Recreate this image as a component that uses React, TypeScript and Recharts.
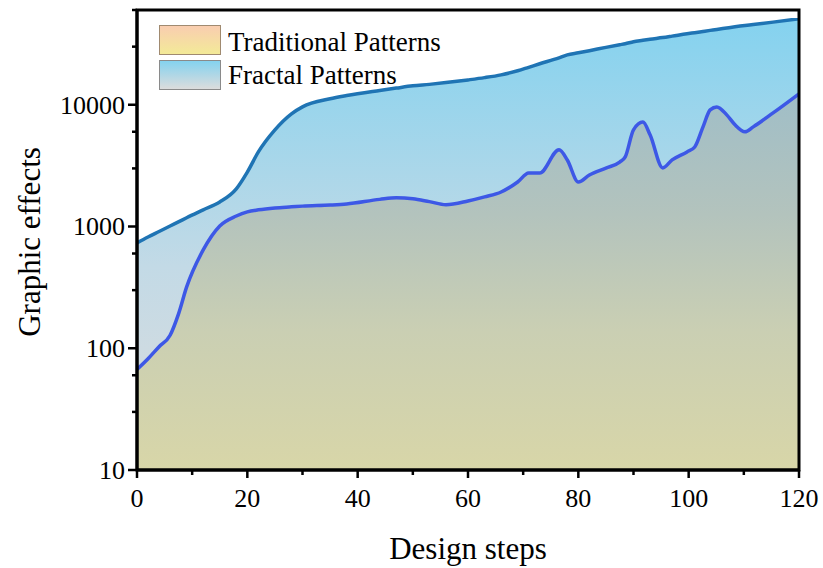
import { ComposedChart, Area, XAxis, YAxis, ReferenceArea } from "recharts";

document.body.style.margin = "0";

const steps = [0, 2, 4, 6, 7.5, 9, 12, 15, 18, 20, 22, 25, 28, 30, 35, 38, 44, 47, 50, 53, 56, 60, 63, 66, 69, 71, 73, 76.5, 78, 80, 82, 85, 87.5, 88.5, 90, 91.7, 93, 95.3, 97, 99.7, 101.1, 102.6, 103.9, 105.1, 106.9, 108.4, 110.2, 111.7, 115.3, 120];

const fractal = [733, 820, 910, 1010, 1090, 1180, 1370, 1590, 2040, 2800, 4100, 6220, 8420, 9610, 11200, 11900, 13100, 13700, 14300, 14700, 15200, 16000, 16700, 17600, 19000, 20300, 21700, 24300, 25700, 26700, 27800, 29600, 31100, 31700, 32900, 33800, 34500, 35600, 36600, 38300, 39100, 40000, 40800, 41500, 42700, 43700, 44800, 45600, 47700, 50800];

const traditional = [67, 82, 103, 128, 190, 319, 642, 1010, 1220, 1320, 1370, 1420, 1450, 1470, 1500, 1530, 1670, 1720, 1690, 1600, 1510, 1620, 1750, 1920, 2320, 2750, 2750, 4270, 3520, 2320, 2650, 3020, 3380, 3730, 6220, 7200, 5660, 3030, 3520, 4100, 4500, 6580, 9080, 9600, 8260, 6840, 6000, 6580, 8570, 12300];

const yTicks = [10, 20, 30, 40, 50, 60, 70, 80, 90, 100, 200, 300, 400, 500, 600, 700, 800, 900, 1000, 2000, 3000, 4000, 5000, 6000, 7000, 8000, 9000, 10000, 20000, 30000, 40000, 50000, 60000];
const yMajor = [10, 100, 1000, 10000];
const xTicks = [0, 10, 20, 30, 40, 50, 60, 70, 80, 90, 100, 110, 120];
const xMajor = [0, 20, 40, 60, 80, 100, 120];

const data = steps.map((s, i) => ({ step: s, fractal: fractal[i], traditional: traditional[i] }));

const FONT = "'Liberation Serif', Tinos, 'Nimbus Roman', 'DejaVu Serif', serif";

function YTick({ x, y, payload }: any) {
  const major = yMajor.includes(payload.value);
  return (
    <g>
      <line x1={x - (major ? 9 : 5)} x2={x} y1={y} y2={y} stroke="#000" strokeWidth={2.5} />
      {major && (
        <text x={x - 12} y={y + 9} textAnchor="end" fontSize={26} style={{ fontFamily: FONT }} fill="#000">
          {payload.value}
        </text>
      )}
    </g>
  );
}

function XTick({ x, y, payload }: any) {
  const major = xMajor.includes(payload.value);
  return (
    <g>
      <line x1={x} x2={x} y1={y} y2={y + (major ? 8 : 5)} stroke="#000" strokeWidth={2.5} />
      {major && (
        <text x={x} y={y + 37} textAnchor="middle" fontSize={26} style={{ fontFamily: FONT }} fill="#000">
          {payload.value}
        </text>
      )}
    </g>
  );
}

function YTitle() {
  return (
    <text
      x={40}
      y={242}
      transform="rotate(-90 40 242)"
      textAnchor="middle"
      fontSize={31}
      style={{ fontFamily: FONT }}
      fill="#000"
    >
      Graphic effects
    </text>
  );
}

function XTitle() {
  return (
    <text x={468} y={559} textAnchor="middle" fontSize={31} style={{ fontFamily: FONT }} fill="#000">
      Design steps
    </text>
  );
}

const swatch = (bg: string, border: string): React.CSSProperties => ({
  position: "absolute",
  left: 159,
  width: 62,
  height: 30,
  background: bg,
  border: `1px solid ${border}`,
  boxSizing: "border-box",
});

const legendText: React.CSSProperties = {
  position: "absolute",
  left: 228,
  fontFamily: FONT,
  fontSize: 27,
  lineHeight: "30px",
  color: "#000",
  whiteSpace: "nowrap",
};

export default function App() {
  return (
    <div style={{ position: "relative", width: 823, height: 568, background: "#fff", fontFamily: FONT }}>
      <ComposedChart width={823} height={568} data={data} margin={{ top: 10, right: 24, bottom: 0, left: 0 }}>
        <defs>
          <linearGradient id="fracFill" x1="0" y1="0" x2="0" y2="1">
            <stop offset="0%" stopColor="#84d2ef" />
            <stop offset="55%" stopColor="#c3dae6" />
            <stop offset="100%" stopColor="#dcdcdc" />
          </linearGradient>
          <linearGradient id="tradFill" x1="0" y1="0" x2="0" y2="1">
            <stop offset="0%" stopColor="#a0bec7" />
            <stop offset="32%" stopColor="#b3c3bd" />
            <stop offset="63%" stopColor="#cacfb3" />
            <stop offset="100%" stopColor="#d8d6a8" />
          </linearGradient>
        </defs>
        <XAxis
          dataKey="step"
          type="number"
          domain={[0, 120]}
          ticks={xTicks}
          tick={<XTick />}
          tickSize={0}
          tickMargin={0}
          tickLine={false}
          height={98}
          axisLine={{ stroke: "#000", strokeWidth: 3 }}
          label={<XTitle />}
        />
        <YAxis
          scale="log"
          type="number"
          domain={[10, 60000]}
          ticks={yTicks}
          tick={<YTick />}
          tickSize={0}
          tickMargin={0}
          tickLine={false}
          width={137}
          allowDataOverflow
          axisLine={{ stroke: "#000", strokeWidth: 3 }}
          label={<YTitle />}
        />
        <Area
          type="monotone"
          dataKey="fractal"
          name="Fractal Patterns"
          stroke="#1f74b4"
          strokeWidth={3.5}
          fill="url(#fracFill)"
          fillOpacity={1}
          baseValue={10}
          isAnimationActive={false}
        />
        <Area
          type="monotone"
          dataKey="traditional"
          name="Traditional Patterns"
          stroke="#3d58e6"
          strokeWidth={3.5}
          fill="url(#tradFill)"
          fillOpacity={1}
          baseValue={10}
          isAnimationActive={false}
        />
        <ReferenceArea x1={0} x2={120} y1={10} y2={60000} fill="none" stroke="#000" strokeWidth={3} ifOverflow="visible" />
      </ComposedChart>
      <div style={{ ...swatch("linear-gradient(#f9cdb0, #f3ea98)", "#a08a70"), top: 25 }} />
      <div style={{ ...legendText, top: 27 }}>Traditional Patterns</div>
      <div style={{ ...swatch("linear-gradient(#84d2ef, #dcdcdc)", "#8a8a8a"), top: 60 }} />
      <div style={{ ...legendText, top: 60 }}>Fractal Patterns</div>
    </div>
  );
}
